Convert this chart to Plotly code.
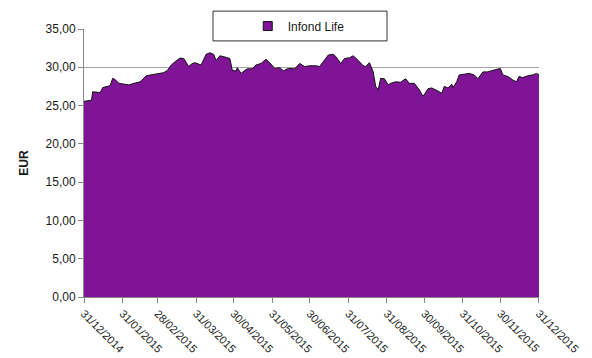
import plotly.graph_objects as go

dates = [
    "2014-12-31", "2015-01-04", "2015-01-06", "2015-01-07", "2015-01-13", "2015-01-15",
    "2015-01-21", "2015-01-23", "2015-01-25", "2015-01-28", "2015-01-31", "2015-02-05",
    "2015-02-09", "2015-02-14", "2015-02-19", "2015-02-26", "2015-03-05", "2015-03-08",
    "2015-03-11", "2015-03-15", "2015-03-18", "2015-03-21", "2015-03-25", "2015-03-27",
    "2015-03-30", "2015-04-04", "2015-04-08", "2015-04-11", "2015-04-14", "2015-04-16",
    "2015-04-19", "2015-04-24", "2015-04-27", "2015-04-29", "2015-05-02", "2015-05-03",
    "2015-05-06", "2015-05-09", "2015-05-11", "2015-05-15", "2015-05-18", "2015-05-22",
    "2015-05-26", "2015-05-29", "2015-06-02", "2015-06-06", "2015-06-09", "2015-06-13",
    "2015-06-18", "2015-06-22", "2015-06-26", "2015-06-30", "2015-07-05", "2015-07-08",
    "2015-07-12", "2015-07-15", "2015-07-19", "2015-07-21", "2015-07-25", "2015-07-28",
    "2015-08-01", "2015-08-04", "2015-08-08", "2015-08-12", "2015-08-14", "2015-08-17",
    "2015-08-20", "2015-08-22", "2015-08-24", "2015-08-26", "2015-08-29", "2015-09-01",
    "2015-09-03", "2015-09-07", "2015-09-11", "2015-09-15", "2015-09-18", "2015-09-22",
    "2015-09-26", "2015-09-29", "2015-10-03", "2015-10-06", "2015-10-11", "2015-10-14",
    "2015-10-16", "2015-10-19", "2015-10-22", "2015-10-23", "2015-10-26", "2015-10-28",
    "2015-11-01", "2015-11-05", "2015-11-09", "2015-11-12", "2015-11-16", "2015-11-20",
    "2015-11-24", "2015-11-28", "2015-11-30", "2015-12-02", "2015-12-06", "2015-12-10",
    "2015-12-13", "2015-12-15", "2015-12-18", "2015-12-22", "2015-12-26", "2015-12-29",
    "2015-12-31",
]
values = [
    25.55, 25.65, 25.70, 26.80, 26.70, 27.35,
    27.60, 28.56, 28.40, 27.90, 27.80, 27.70,
    27.90, 28.10, 28.90, 29.10, 29.30, 29.60,
    30.30, 30.85, 31.20, 31.15, 30.10, 30.40,
    30.60, 30.30, 31.70, 31.90, 31.70, 30.90,
    31.50, 31.30, 31.15, 29.60, 29.50, 29.95,
    29.20, 29.60, 29.80, 29.80, 30.30, 30.50,
    31.05, 30.60, 29.85, 29.95, 29.55, 29.85,
    29.80, 30.50, 30.10, 30.20, 30.20, 30.10,
    30.90, 31.60, 31.70, 31.40, 30.50, 31.15,
    31.25, 31.50, 30.90, 30.20, 30.10, 30.60,
    29.40, 27.50, 27.05, 28.55, 28.50, 27.70,
    27.90, 28.10, 28.05, 28.50, 27.90, 27.90,
    27.05, 26.20, 27.20, 27.30, 26.90, 26.60,
    27.50, 27.30, 27.80, 27.35, 28.10, 29.00,
    29.10, 29.20, 29.00, 28.50, 29.40, 29.40,
    29.60, 29.80, 29.85, 29.00, 28.80, 28.35,
    28.10, 28.80, 28.65, 28.90, 29.00, 29.20,
    29.00,
]

tick_dates = [
    "2014-12-31", "2015-01-31", "2015-02-28", "2015-03-31", "2015-04-30", "2015-05-31",
    "2015-06-30", "2015-07-31", "2015-08-31", "2015-09-30", "2015-10-31", "2015-11-30",
    "2015-12-31",
]
tick_labels = [
    "31/12/2014", "31/01/2015", "28/02/2015", "31/03/2015", "30/04/2015", "31/05/2015",
    "30/06/2015", "31/07/2015", "31/08/2015", "30/09/2015", "31/10/2015", "30/11/2015",
    "31/12/2015",
]
series_name = "Infond Life"

FONT = "Liberation Sans, Arial, sans-serif"
PURPLE = "#7f1497"
TXT = "#1a1a1a"

fig = go.Figure()
fig.add_trace(go.Scatter(
    x=dates, y=values, name=series_name, mode="lines",
    fill="tozeroy", fillcolor=PURPLE,
    line=dict(color="#111111", width=1),
    showlegend=False,
))
# legend entry (square swatch like the original)
fig.add_trace(go.Scatter(
    x=[None], y=[None], name=series_name, mode="markers",
    marker=dict(symbol="square", size=9, color=PURPLE, line=dict(color="#111111", width=1)),
    showlegend=True,
))

fig.update_layout(
    width=592, height=358,
    margin=dict(l=84, r=53, t=27, b=61),
    paper_bgcolor="white", plot_bgcolor="white",
    font=dict(family=FONT, size=12, color=TXT),
    separators=", ",
    showlegend=True,
    legend=dict(
        x=0.472, xanchor="center", y=1.011, yanchor="middle",
        bgcolor="rgba(0,0,0,0)", borderwidth=0,
        itemwidth=30,
        font=dict(family=FONT, size=12, color=TXT),
    ),
    shapes=[dict(
        type="rect", xref="paper", yref="paper",
        x0=0.2835, x1=0.666, y0=0.9556, y1=1.0667,
        fillcolor="white", line=dict(color="#333333", width=1), layer="above",
    )],
)

fig.update_xaxes(
    range=["2014-12-31", "2015-12-31 00:30"],
    tickmode="array", tickvals=tick_dates, ticktext=tick_labels,
    tickangle=45, ticks="outside", ticklen=5, tickcolor="#888888",
    showline=True, linecolor="#888888", linewidth=1,
    showgrid=False, zeroline=False, automargin=False,
    tickfont=dict(family=FONT, size=11, color=TXT),
)
fig.update_yaxes(
    range=[0, 35], dtick=5, tickformat=".2f",
    ticks="outside", ticklen=5, tickcolor="#888888",
    showline=True, linecolor="#888888", linewidth=1,
    showgrid=True, gridcolor="#a6a6a6", gridwidth=1,
    zeroline=False, automargin=False,
    title=dict(text="<b>EUR</b>", font=dict(family=FONT, size=12, color=TXT), standoff=14),
    tickfont=dict(family=FONT, size=12, color=TXT),
)

fig.write_html("out.html")
